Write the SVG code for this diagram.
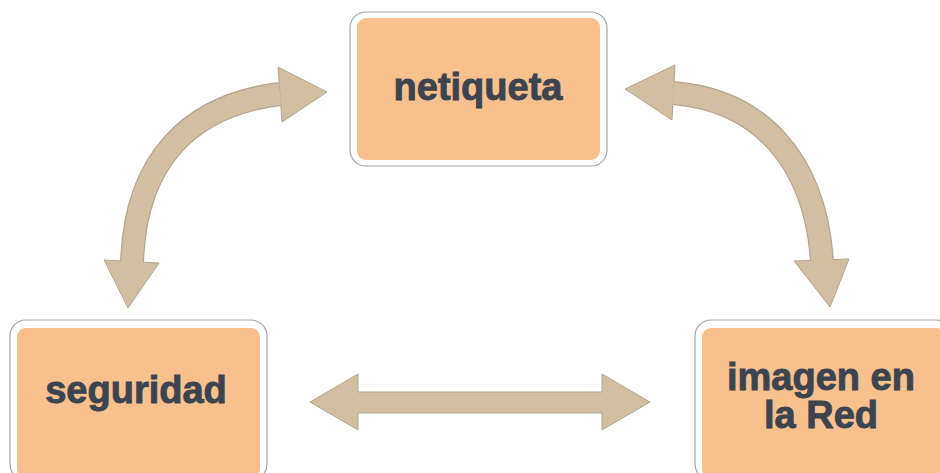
<svg xmlns="http://www.w3.org/2000/svg" width="940" height="473" viewBox="0 0 940 473">
<style>
.frame{fill:#ffffff;stroke:#a6a6a6;stroke-width:1.2}
.box{fill:#f8c08d}
.lbl{font-family:"Liberation Sans",Arial,sans-serif;font-weight:bold;font-size:38px;fill:#3c4450;stroke:#3c4450;stroke-width:0.9;text-anchor:middle}
.edge{fill:none;stroke:#b3a690;stroke-width:24}
.shaft{fill:none;stroke:#d2bea1;stroke-width:21.5}
.head{fill:#d2bea1;stroke:#b3a690;stroke-width:1}
</style>
<rect width="940" height="473" fill="#ffffff"/>
<g id="connectors">
  <g id="arrow-left">
    <path class="edge" d="M132 263 C135 160 190 105 280 94"/>
    <polygon class="head" points="278,67 327,92 282,122"/>
    <polygon class="head" points="104,260 159,263 128,308"/>
    <path class="shaft" d="M132 263 C135 160 190 105 280 94"/>
  </g>
  <g id="arrow-right">
    <path class="edge" d="M673 93 C760 100 815 160 822 261"/>
    <polygon class="head" points="675,65 625,89 672,120"/>
    <polygon class="head" points="794,261 849,259 830,307"/>
    <path class="shaft" d="M673 93 C760 100 815 160 822 261"/>
  </g>
  <g id="arrow-bottom">
    <polygon class="head" points="310,402 358,374 358,392 602,392 602,374 650,402 602,430 602,413 358,413 358,430"/>
  </g>
</g>
<g id="node-netiqueta">
  <rect class="frame" x="350" y="12" width="257" height="154" rx="16"/>
  <rect class="box" x="357" y="18" width="243" height="142" rx="9"/>
  <text class="lbl" x="478" y="100">netiqueta</text>
</g>
<g id="node-seguridad">
  <rect class="frame" x="10" y="320" width="257" height="160" rx="16"/>
  <rect class="box" x="17" y="328" width="243" height="150" rx="9"/>
  <text class="lbl" x="136" y="403">seguridad</text>
</g>
<g id="node-imagen">
  <rect class="frame" x="695" y="320" width="257" height="160" rx="16"/>
  <rect class="box" x="702" y="328" width="243" height="150" rx="9"/>
  <text class="lbl" x="821" y="390">imagen en</text>
  <text class="lbl" x="821" y="428">la Red</text>
</g>
</svg>
